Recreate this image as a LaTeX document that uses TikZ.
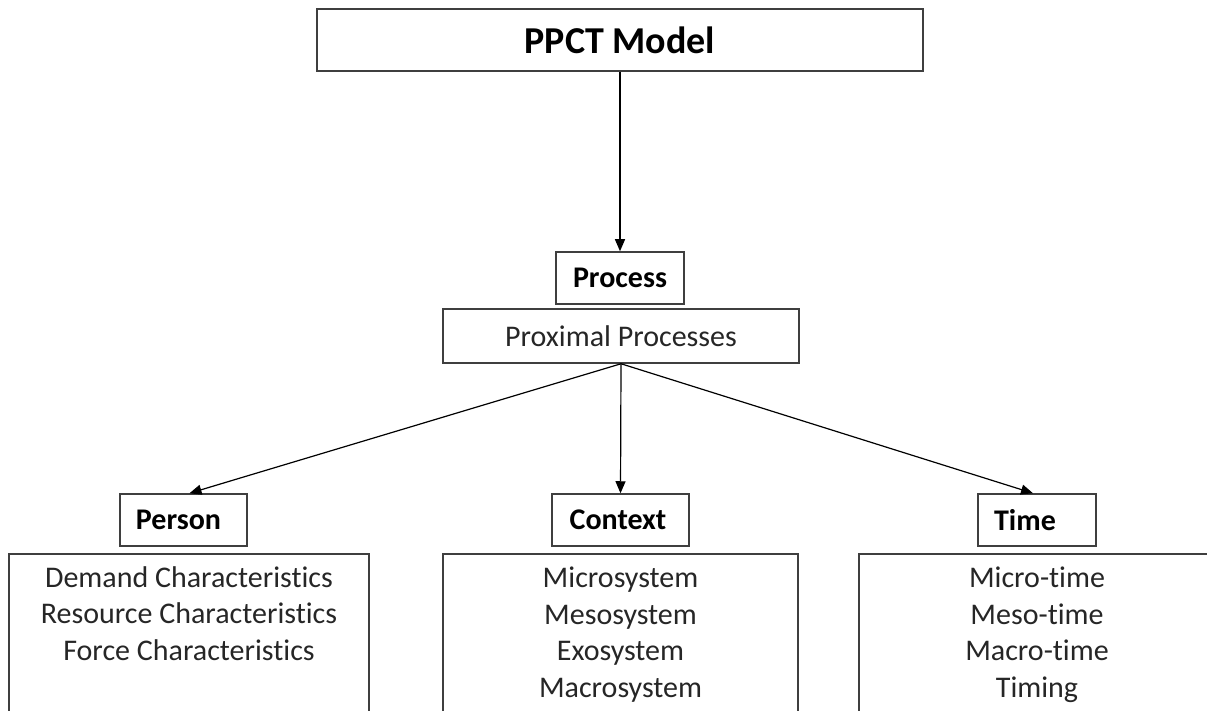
\documentclass[tikz,border=0pt]{standalone}
\usepackage{fontspec}
\setmainfont{Carlito}[Ligatures={NoCommon}]
\usetikzlibrary{arrows.meta}

\definecolor{boxline}{HTML}{3F3F3F}

\tikzset{
  box/.style={draw=boxline, line width=1.5pt, rectangle, inner sep=0pt,
    align=center, text=black},
  heading/.style={box, font=\bfseries\fontsize{30}{36}\selectfont},
  listbox/.style={draw=boxline, line width=1.5pt, rectangle, inner sep=0pt,
    minimum width=#1, minimum height=180pt, anchor=north},
  % multi-line text: the base anchor sits on the last line's baseline
  listtext/.style={align=center, inner sep=0pt, anchor=base,
    font=\fontsize{30}{36.5}\selectfont, text=black!85},
  link/.style={draw=black, line width=1.2pt,
    -{Triangle[length=12pt,width=10pt]}},
}

\begin{document}
\begin{tikzpicture}[x=1pt, y=-1pt]
  \useasboundingbox (0,0) rectangle (1207,711);
  \clip (0,0) rectangle (1207,711);

  % top level
  \node[box, minimum width=606pt, minimum height=62pt,
        font=\bfseries\fontsize{38}{44}\selectfont] (ppct) at (620,40) {PPCT Model};

  % process tier
  \node[heading, minimum width=128pt, minimum height=52pt] (process) at (620,278) {Process};
  \node[box, minimum width=356pt, minimum height=54pt,
        font=\fontsize{30}{36}\selectfont, text=black!85] (proximal) at (621,336) {Proximal Processes};

  % the three components (labels sit a little left of centre)
  \node[heading, minimum width=127pt, minimum height=52pt] (person)  at (183.5,520) {Person\hspace{10pt}};
  \node[heading, minimum width=137pt, minimum height=52pt] (context) at (620.5,520) {Context\hspace{5pt}};
  \node[heading, minimum width=118pt, minimum height=52pt] (time)    at (1037,520)  {Time\hspace{24pt}};

  % lists under each component (boxes run past the lower edge)
  \node[listbox=360pt] (personlist)  at (189,553)   {};
  \node[listbox=355pt] (contextlist) at (620.5,553) {};
  \node[listbox=356pt] (timelist)    at (1037,553)  {};

  \node[listtext] (persontext) at (personlist.north |- 0,660)
    {Demand Characteristics\\Resource Characteristics\\Force Characteristics};
  \node[listtext] (contexttext) at (contextlist.north |- 0,697)
    {Microsystem\\Mesosystem\\Exosystem\\Macrosystem};
  \node[listtext] (timetext) at (timelist.north |- 0,697)
    {Micro-time\\Meso-time\\Macro-time\\Timing};

  % connectors
  \draw[link] (ppct.south -| process.north) -- (process.north);
  \draw[link] (proximal.south) -- ([xshift=6pt]person.north);
  \draw[link] (proximal.south) -- (context.north);
  \draw[link] (proximal.south) -- ([xshift=-4pt]time.north);
\end{tikzpicture}
\end{document}
